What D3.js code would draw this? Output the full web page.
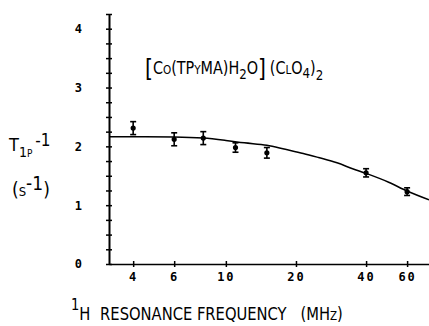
<!DOCTYPE html>
<html>
<head>
<meta charset="utf-8">
<script src="https://cdn.jsdelivr.net/npm/d3@7"></script>
<style>
  html, body { margin: 0; padding: 0; background: #fff; }
  .tick text { font-family: "DejaVu Sans Mono", monospace; font-weight: bold; font-size: 12px; fill: #000; }
  .lbl { font-family: "DejaVu Sans Condensed", "DejaVu Sans", sans-serif; font-variant: small-caps; fill: #000; }
</style>
</head>
<body>
<svg id="chart"></svg>
<script>
// measured points (MHz, s^-1) with error bars
var freqs = [4, 6, 8, 11, 15, 40, 60];
var rates = [2.31, 2.12, 2.14, 1.98, 1.89, 1.55, 1.23];
var errs = [0.11, 0.11, 0.11, 0.08, 0.09, 0.07, 0.065];

// fitted curve
var fitFreqs = [3.15, 4, 6, 8, 10, 12, 15, 18, 21.5, 25, 30, 35, 40, 50, 60, 74.5];
var fitRates = [2.165, 2.165, 2.16, 2.14, 2.10, 2.06, 2.02, 1.95, 1.88, 1.81, 1.72, 1.62, 1.54, 1.39, 1.24, 1.09];

// ticks
var xTicks = [4, 6, 10, 20, 40, 60];
var yLabels = [0, 1, 2, 3, 4];
var yMinor = d3.range(0, 4.26, 0.25);

var width = 429, height = 326;

var x = d3.scaleLog().domain([3.15, 74.5]).range([109, 429]);
var y = d3.scaleLinear().domain([0, 4.25]).range([264, 14]);

var svg = d3.select("#chart")
    .attr("width", width)
    .attr("height", height);

// y axis: ticks every 0.25 crossing the line
var yAxis = svg.append("g")
    .attr("transform", "translate(109,0)")
    .call(d3.axisLeft(y).tickValues(yMinor).tickSize(3).tickFormat("").tickSizeOuter(0));
yAxis.selectAll(".tick line").attr("x1", -3).attr("x2", 3).attr("stroke-width", 1.5);
yAxis.select(".domain").attr("stroke-width", 2);

svg.append("g")
    .attr("transform", "translate(109,0)")
    .call(d3.axisLeft(y).tickValues(yLabels).tickSize(0).tickPadding(27).tickFormat(d3.format("d")))
    .call(g => g.select(".domain").remove());

// x axis
var xAxis = svg.append("g")
    .attr("transform", "translate(0,264)")
    .call(d3.axisBottom(x).tickValues(xTicks).tickSize(3).tickPadding(5)
        .tickFormat(d3.format("d")).tickSizeOuter(0));
xAxis.selectAll(".tick line").attr("y1", -3).attr("y2", 3).attr("stroke-width", 1.5);
xAxis.select(".domain").attr("stroke-width", 1.5);
xAxis.selectAll(".tick text").attr("letter-spacing", 2);

// fitted curve
svg.append("path")
    .datum(d3.zip(fitFreqs, fitRates))
    .attr("fill", "none")
    .attr("stroke", "#000")
    .attr("stroke-width", 1.5)
    .attr("d", d3.line()
        .x(function(d) { return x(d[0]); })
        .y(function(d) { return y(d[1]); })
        .curve(d3.curveMonotoneX));

// error bars
var pts = svg.append("g")
    .selectAll("g")
    .data(d3.zip(freqs, rates, errs))
    .join("g")
    .attr("stroke", "#000")
    .attr("stroke-width", 1.6);

pts.append("line")
    .attr("x1", d => x(d[0])).attr("x2", d => x(d[0]))
    .attr("y1", d => y(d[1] + d[2])).attr("y2", d => y(d[1] - d[2]));
pts.append("line")
    .attr("x1", d => x(d[0]) - 3).attr("x2", d => x(d[0]) + 3)
    .attr("y1", d => y(d[1] + d[2])).attr("y2", d => y(d[1] + d[2]));
pts.append("line")
    .attr("x1", d => x(d[0]) - 3).attr("x2", d => x(d[0]) + 3)
    .attr("y1", d => y(d[1] - d[2])).attr("y2", d => y(d[1] - d[2]));
pts.append("circle")
    .attr("cx", d => x(d[0]))
    .attr("cy", d => y(d[1]))
    .attr("r", 1.8)
    .attr("fill", "#000");

// compound label, squeezed a little like the plotter lettering
var title = svg.append("text")
    .attr("class", "lbl")
    .attr("transform", "translate(145,74) scale(0.94,1)")
    .attr("font-size", 17);
title.append("tspan").attr("font-size", 24).attr("dy", 3).text("[");
title.append("tspan").attr("dy", -3).text("Co(TPyMA)H");
title.append("tspan").attr("font-size", 14).attr("dy", 5).text("2");
title.append("tspan").attr("dy", -5).text("O");
title.append("tspan").attr("font-size", 24).attr("dy", 3).text("]");
title.append("tspan").attr("dy", -3).attr("dx", 4).text("(ClO");
title.append("tspan").attr("font-size", 14).attr("dy", 4).text("4");
title.append("tspan").attr("dy", -4).text(")");
title.append("tspan").attr("font-size", 14).attr("dy", 6).text("2");

// y label
var yl = svg.append("text")
    .attr("class", "lbl")
    .attr("x", 9)
    .attr("y", 151)
    .attr("font-size", 18);
yl.append("tspan").text("T");
yl.append("tspan").attr("font-size", 14).attr("dy", 6).text("1p");
yl.append("tspan").attr("font-size", 17).attr("dy", -11).attr("dx", 3).text("-1");

var yl2 = svg.append("text")
    .attr("class", "lbl")
    .attr("x", 12)
    .attr("y", 196)
    .attr("font-size", 19);
yl2.append("tspan").text("(s");
yl2.append("tspan").attr("dy", -6).text("-1");
yl2.append("tspan").attr("dy", 6).text(")");

// x label
var xl = svg.append("text")
    .attr("class", "lbl")
    .attr("transform", "translate(71,320) scale(0.91,1)")
    .attr("font-size", 18);
xl.append("tspan").attr("font-size", 16).attr("dy", -10).text("1");
xl.append("tspan").attr("dy", 10).text("H");
xl.append("tspan").attr("x", 32).text("RESONANCE FREQUENCY\u00a0\u00a0\u00a0(MHz)");
</script>
</body>
</html>
